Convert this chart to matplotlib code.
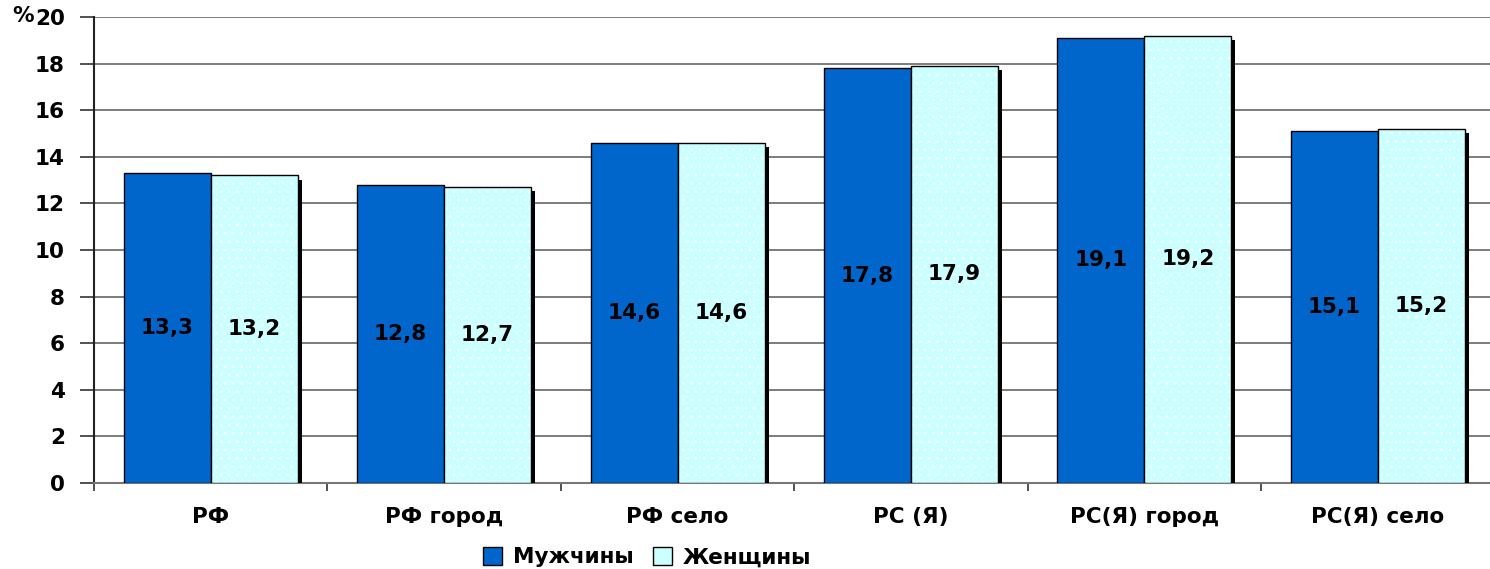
import matplotlib
matplotlib.use("Agg")
import matplotlib.pyplot as plt
import matplotlib.patheffects as pe
import numpy as np

categories = ["РФ", "РФ город", "РФ село", "РС (Я)", "РС(Я) город", "РС(Я) село"]
men = [13.3, 12.8, 14.6, 17.8, 19.1, 15.1]
women = [13.2, 12.7, 14.6, 17.9, 19.2, 15.2]
men_labels = ["13,3", "12,8", "14,6", "17,8", "19,1", "15,1"]
women_labels = ["13,2", "12,7", "14,6", "17,9", "19,2", "15,2"]
series_names = ["Мужчины", "Женщины"]
yticks = [0, 2, 4, 6, 8, 10, 12, 14, 16, 18, 20]

plt.rcParams['font.family'] = ['DejaVu Sans']
plt.rcParams['hatch.linewidth'] = 0.8

FS = 15.5
W, H = 1490, 569
fig = plt.figure(figsize=(W / 100, H / 100), dpi=100)
left, right, bottom, top = 94, 94 + 6 * 233.4, 569 - 483, 569 - 17
ax = fig.add_axes([left / W, bottom / H, (right - left) / W, (top - bottom) / H])

x = np.arange(len(categories))
bw = 87 / 233.4
shadow = [pe.SimplePatchShadow(offset=(3.0, -3.0), shadow_rgbFace='black', alpha=1.0), pe.Normal()]

b1 = ax.bar(x - bw / 2, men, width=bw, color="#0066CC", edgecolor="black", linewidth=1.0,
            zorder=3, label=series_names[0])
for p in b1:
    p.set_path_effects(shadow)
b2 = ax.bar(x + bw / 2, women, width=bw, color="#CCFFFF", edgecolor="none", linewidth=0,
            zorder=4, label=series_names[1])
for p in b2:
    p.set_path_effects(shadow)
ax.bar(x + bw / 2, women, width=bw, fill=False, hatch="..", edgecolor="#F2FFFF", linewidth=0, zorder=4.5)
ax.bar(x + bw / 2, women, width=bw, fill=False, edgecolor="black", linewidth=1.0, zorder=4.8)

for xi, v, s in zip(x, men, men_labels):
    ax.text(xi - bw / 2, v / 2, s, ha="center", va="center", fontsize=FS, fontweight="bold", zorder=6)
for xi, v, s in zip(x, women, women_labels):
    ax.text(xi + bw / 2, v / 2, s, ha="center", va="center", fontsize=FS, fontweight="bold", zorder=6)

ax.set_xlim(-0.5, 5.5)
ax.set_ylim(0, 20)
ax.set_yticks(yticks)
ax.set_yticklabels([str(t) for t in yticks], fontsize=FS, fontweight="bold")
ax.tick_params(axis="y", length=10, width=1.2, color="#333333", pad=11)
ax.yaxis.grid(True, color="#666666", linewidth=1.2, zorder=0)
ax.set_axisbelow(True)

ax.set_xticks(x)
ax.set_xticklabels(categories, fontsize=FS, fontweight="bold")
ax.tick_params(axis="x", which="major", length=0, pad=17)
ax.set_xticks(np.arange(-0.5, 6.0, 1.0), minor=True)
ax.tick_params(axis="x", which="minor", length=6, width=1.2, color="#333333")

for s in ["top", "right"]:
    ax.spines[s].set_visible(False)
ax.spines["left"].set_color("#222222")
ax.spines["left"].set_linewidth(1.5)
ax.spines["bottom"].set_color("#777777")
ax.spines["bottom"].set_linewidth(1.5)

fig.text(34 / W, 1 - 16 / H, "%", fontsize=FS, fontweight="bold", ha="right", va="center")

leg = fig.legend(handles=[b1, b2], labels=series_names, loc="center", bbox_to_anchor=(647 / W, 1 - 557 / H),
                 ncol=2, frameon=False, prop={"size": FS, "weight": "bold"},
                 handlelength=0.9, handleheight=0.9, handletextpad=0.5, columnspacing=0.9, borderaxespad=0)
for h in leg.legend_handles:
    h.set_path_effects([])
leg.legend_handles[1].set_edgecolor("black")
leg.legend_handles[1].set_linewidth(1.0)

fig.savefig("out.png", dpi=100)
